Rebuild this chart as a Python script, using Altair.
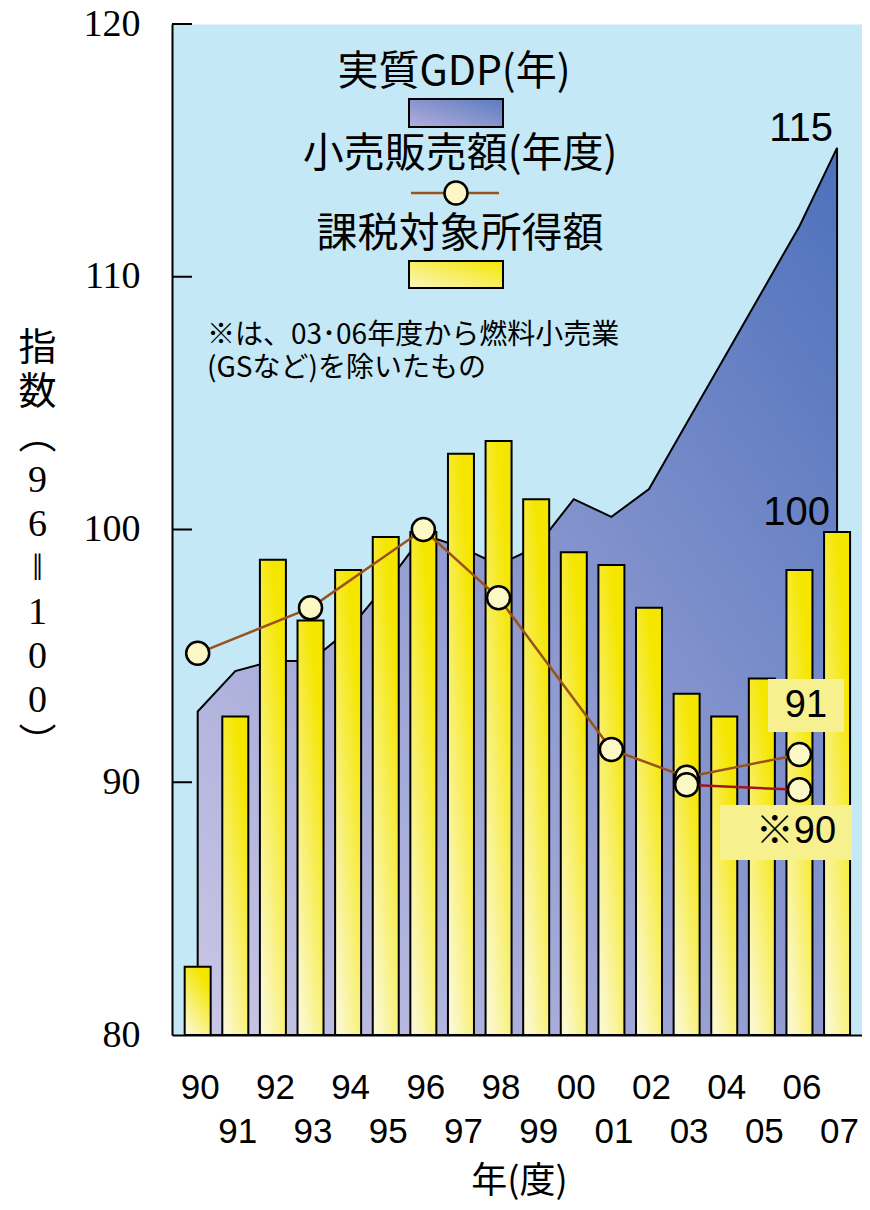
import altair as alt
import pandas as pd

# ---- data ----
years = ["90", "91", "92", "93", "94", "95", "96", "97", "98", "99",
         "00", "01", "02", "03", "04", "05", "06", "07"]
gdp = [92.8, 94.4, 94.8, 94.8, 96.0, 97.8, 99.8, 99.3, 98.6, 99.3,
       101.2, 100.5, 101.6, 104.2, 106.8, 109.4, 112.0, 115.1]
income = [82.7, 92.6, 98.8, 96.4, 98.4, 99.7, 99.9, 103.0, 103.5, 101.2,
          99.1, 98.6, 96.9, 93.5, 92.6, 94.1, 98.4, 99.9]
retail_years = ["90", "93", "96", "98", "01", "03", "06"]
retail = [95.1, 96.9, 100.0, 97.3, 91.3, 90.2, 91.1]
retail_ex_years = ["03", "06"]
retail_ex = [89.9, 89.7]
y_ticks = [90, 100, 110, 120]
y_labels = [80, 90, 100, 110, 120]

idx = {y: i for i, y in enumerate(years)}
df_gdp = pd.DataFrame({"i": range(len(years)), "v": gdp})
df_inc = pd.DataFrame({"i": range(len(years)), "v": income})
df_ret = pd.DataFrame({"i": [idx[y] for y in retail_years], "v": retail})
df_ex = pd.DataFrame({"i": [idx[y] for y in retail_ex_years], "v": retail_ex})
df_gdp_last = df_gdp.tail(1).assign(t=lambda d: d["v"].round().astype(int).astype(str))
df_inc_last = df_inc.tail(1).assign(t=lambda d: d["v"].round().astype(int).astype(str))
df_ticks = pd.DataFrame({"v": y_ticks})
one = pd.DataFrame({"a": [0]})

W, H = 690, 1011
xscale = alt.Scale(domain=[-0.55, 17.53], nice=False, zero=False)
yscale = alt.Scale(domain=[80, 120], nice=False, zero=False)

label_arr = "[" + ",".join("'" + y + "'" for y in years) + "]"
label_expr = ("datum.value % 2 == 1 ? ['', " + label_arr + "[datum.value]] : "
              + label_arr + "[datum.value]")
xaxis = alt.Axis(
    values=list(range(len(years))),
    labelExpr=label_expr,
    labelFont="Liberation Sans", labelFontSize=35, labelColor="black",
    labelLineHeight=44, labelBaseline="top", labelPadding=35, labelOffset=2,
    labelOverlap=False, labelFlush=False, labelBound=False,
    ticks=False, tickSize=0, grid=False,
    domainColor="black", domainWidth=2,
    title="年(度)", titleFont="Noto Sans CJK JP", titleFontSize=36,
    titleFontWeight="normal", titleColor="black",
    titleX=347, titleY=146, titleAlign="center", titleBaseline="middle",
)
yaxis = alt.Axis(
    values=y_labels, format="d",
    labelFont="Liberation Serif", labelFontSize=38, labelColor="black",
    labelPadding=32, ticks=False, tickSize=0, grid=False,
    domainColor="black", domainWidth=2,
    title=["指", "数", "︵", "9", "6", "‖", "1", "0", "0", "︶"],
    titleFont="Liberation Serif, Noto Sans CJK JP", titleFontSize=38,
    titleFontWeight="normal", titleColor="black", titleAngle=0,
    titleAlign="center", titleBaseline="top", titleLineHeight=44,
    titleX=-135, titleY=305,
)

area_grad = {"gradient": "linear", "x1": 0, "y1": 1, "x2": 1, "y2": 0,
             "stops": [{"offset": 0, "color": "#cbc7e6"},
                       {"offset": 0.5, "color": "#8c98cf"},
                       {"offset": 1, "color": "#4d71bc"}]}
bar_grad = {"gradient": "linear", "x1": 0.8, "y1": 0, "x2": 0.2, "y2": 1,
            "stops": [{"offset": 0, "color": "#f5e600"},
                      {"offset": 0.15, "color": "#f5e600"},
                      {"offset": 1, "color": "#fbf8d0"}]}
swatch_gdp = {"gradient": "linear", "x1": 0, "y1": 1, "x2": 1, "y2": 0,
              "stops": [{"offset": 0, "color": "#b3aedb"},
                        {"offset": 1, "color": "#5b7cc0"}]}
swatch_inc = {"gradient": "linear", "x1": 0, "y1": 1, "x2": 1, "y2": 0,
              "stops": [{"offset": 0, "color": "#faf6c0"},
                        {"offset": 1, "color": "#f5e600"}]}

area = alt.Chart(df_gdp).mark_area(fill=area_grad, stroke="black", strokeWidth=2).encode(
    x=alt.X("i:Q", scale=xscale, axis=xaxis),
    y=alt.Y("v:Q", scale=yscale, axis=yaxis),
    y2=alt.datum(80),
)
bars = alt.Chart(df_inc).mark_bar(width=26, fill=bar_grad, stroke="black", strokeWidth=2).encode(
    x="i:Q", y="v:Q", y2=alt.datum(80))
line_main = alt.Chart(df_ret).mark_line(color="#9a521c", strokeWidth=2.5).encode(x="i:Q", y="v:Q")
line_ex = alt.Chart(df_ex).mark_line(color="#a0161f", strokeWidth=2.5).encode(x="i:Q", y="v:Q")
pt_style = dict(shape="circle", filled=True, fill="#fbf8c6", stroke="black",
                strokeWidth=2.5, size=530, opacity=1)
pts_main = alt.Chart(df_ret).mark_point(**pt_style).encode(x="i:Q", y="v:Q")
pts_ex = alt.Chart(df_ex).mark_point(**pt_style).encode(x="i:Q", y="v:Q")

lab115 = alt.Chart(df_gdp_last).mark_text(
    font="Liberation Sans", fontSize=40, align="right", baseline="alphabetic",
    dx=-4, dy=-7, color="black").encode(x="i:Q", y="v:Q", text="t:N")
lab100 = alt.Chart(df_inc_last).mark_text(
    font="Liberation Sans", fontSize=40, align="right", baseline="alphabetic",
    dx=-7, dy=-7, color="black").encode(x="i:Q", y="v:Q", text="t:N")


def vrect(x1, x2, y1, y2, **kw):
    return alt.Chart(one).mark_rect(**kw).encode(
        x=alt.value(x1), x2=alt.value(x2), y=alt.value(y1), y2=alt.value(y2))


def vtext(x, y, s, **kw):
    return alt.Chart(one).mark_text(**kw).encode(
        x=alt.value(x), y=alt.value(y), text=alt.value(s))


box91 = vrect(596, 672, 655, 708, fill="#f7f08e")
box90 = vrect(548, 680, 781, 836, fill="#f7f08e")
txt91 = vtext(634, 682, "91", font="Liberation Sans", fontSize=38, baseline="middle", color="black")
txt90 = vtext(624, 808, "※90", font="Liberation Sans, Noto Sans CJK JP", fontSize=38,
              baseline="middle", color="black")

lg_font = dict(font="Noto Sans CJK JP", fontSize=41, baseline="middle", align="center", color="black")
lg1 = vtext(282, 49, "実質GDP(年)", **lg_font)
lg_sw1 = vrect(237, 331, 75, 103, fill=swatch_gdp, stroke="black", strokeWidth=2)
lg2 = vtext(288, 131, "小売販売額(年度)", **lg_font)
lg_line = alt.Chart(one).mark_rule(color="#9a521c", strokeWidth=2.5).encode(
    x=alt.value(239), x2=alt.value(327), y=alt.value(169))
lg_pt = alt.Chart(one).mark_point(**pt_style).encode(x=alt.value(284), y=alt.value(169))
lg3 = vtext(288, 211, "課税対象所得額", **lg_font)
lg_sw3 = vrect(237, 331, 237, 264, fill=swatch_inc, stroke="black", strokeWidth=2)
note_font = dict(font="Noto Sans CJK JP", fontSize=28, baseline="middle", align="left", color="black")
note1 = vtext(35, 312, "※は、03･06年度から燃料小売業", **note_font)
note2 = vtext(35, 345, "(GSなど)を除いたもの", **note_font)

ticks = alt.Chart(df_ticks).mark_rule(color="black", strokeWidth=2).encode(
    x=alt.value(0), x2=alt.value(20), y="v:Q")

chart = alt.layer(
    area, bars, line_main, line_ex, pts_main, pts_ex, lab115, lab100,
    box91, box90, txt91, txt90,
    lg1, lg_sw1, lg2, lg_line, lg_pt, lg3, lg_sw3, note1, note2, ticks,
).properties(
    width=W, height=H,
    autosize=alt.AutoSizeParams(type="none"),
    padding={"left": 164, "top": 16, "right": 0, "bottom": 167},
    background="white",
).configure_view(fill="#c4e8f5", strokeOpacity=0)

chart.save("out.html", embed_options={"renderer": "svg", "actions": False})
